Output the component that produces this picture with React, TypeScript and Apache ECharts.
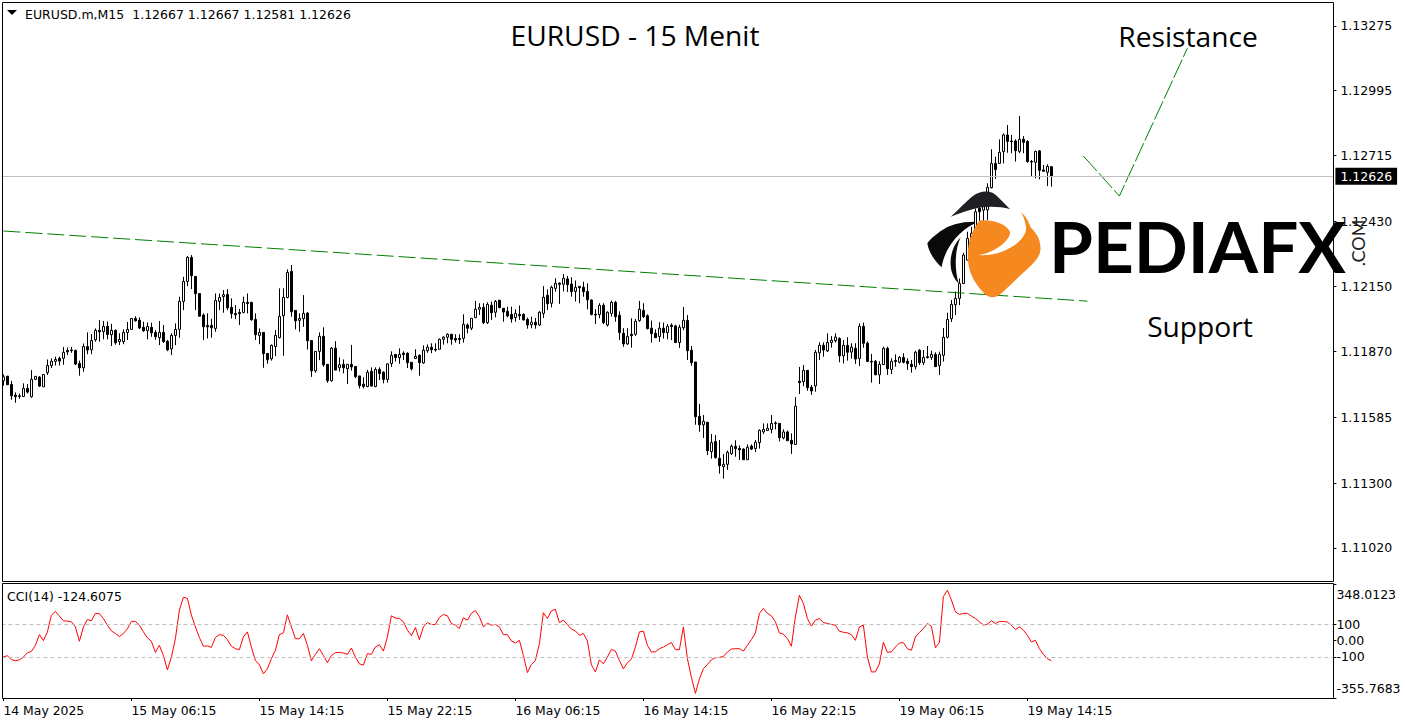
import React, { useEffect, useRef } from "react";
import * as echarts from "echarts";

// prices are stored in points: 12626 means 1.12626
const opens = [
11742,11762,11726,11680,11677,11674,11709,11673,11748,11758,
11716,11777,11807,11826,11839,11839,11873,11875,11873,11817,
11798,11890,11876,11919,11960,11954,11977,11941,11960,11911,
11911,11951,11964,12011,12004,11973,11958,11973,11951,11928,
11951,11913,11880,11938,11964,12085,12171,12275,12193,12119,
12026,11981,11981,11968,12085,12106,12115,12059,12033,12037,
12037,12081,12081,12007,11938,11951,11860,11837,11890,11928,
12023,12102,12214,12046,12003,12010,12034,11916,11785,11869,
11934,11813,11742,11883,11798,11813,11794,11813,11804,11763,
11727,11717,11783,11717,11791,11779,11748,11816,11856,11842,
11861,11861,11822,11838,11852,11819,11872,11887,11878,11878,
11921,11930,11943,11925,11925,11925,11983,11969,12015,12051,
12059,11993,12068,12038,12090,12055,12042,12029,12015,12029,
12029,12007,11984,11995,11983,12033,12111,12077,12141,12164,
12159,12182,12160,12128,12150,12146,12128,12091,12029,12028,
12068,11983,12033,12081,12025,11947,11901,11943,11943,12002,
12046,12023,11969,11947,11933,11969,11950,11982,11979,11907,
11971,12003,11874,11823,11588,11552,11563,11436,11480,11407,
11371,11381,11427,11459,11450,11447,11401,11460,11449,11475,
11521,11527,11532,11560,11558,11495,11521,11485,11467,11740,
11738,11787,11714,11720,11863,11895,11871,11907,11915,11925,
11850,11895,11866,11882,11838,11977,11904,11826,11826,11768,
11812,11882,11791,11830,11822,11843,11826,11813,11803,11874,
11820,11846,11843,11856,11807,11852,11930,12010,12071,12098,
12162,12263,12353,12379,12487,12479,12480,12576,12681,12681,
12732,12804,12778,12778,12733,12785,12776,12690,12686,12735,
12653,12643,12667];

const closes = [
11759,11725,11677,11673,11674,11709,11693,11748,11761,11719,
11769,11808,11826,11834,11827,11865,11867,11872,11814,11798,
11890,11875,11916,11960,11954,11977,11942,11960,11906,11921,
11951,11964,12011,12001,11970,11958,11977,11949,11932,11951,
11911,11876,11938,11964,12085,12171,12275,12196,12118,12021,
11975,11975,11971,12089,12102,12114,12057,12032,12027,12032,
12081,12076,12006,11941,11951,11859,11833,11895,11938,12020,
12102,12210,12040,12001,12011,12033,11915,11785,11869,11934,
11811,11742,11883,11788,11811,11798,11813,11802,11760,11721,
11717,11779,11719,11791,11773,11748,11815,11852,11842,11856,
11855,11820,11794,11848,11820,11874,11887,11876,11875,11921,
11930,11943,11921,11918,11920,11986,11969,12012,12051,12059,
11993,12072,12036,12085,12058,12039,12022,12009,12033,12023,
12005,11983,11995,11983,12038,12103,12075,12146,12163,12159,
12185,12157,12127,12146,12144,12127,12092,12028,12026,12068,
11993,12038,12081,12019,11950,11901,11934,11937,11999,12051,
12019,11967,11946,11928,11969,11950,11977,11976,11907,11973,
12003,11872,11820,11587,11552,11567,11440,11475,11410,11375,
11381,11433,11459,11449,11444,11401,11455,11447,11476,11528,
11532,11537,11558,11557,11496,11521,11483,11469,11632,11734,
11787,11712,11698,11865,11895,11875,11908,11917,11931,11850,
11895,11865,11887,11836,11977,11904,11825,11823,11768,11813,
11882,11794,11826,11825,11843,11822,11816,11803,11865,11820,
11843,11842,11856,11803,11856,11930,12007,12072,12098,12162,
12285,12357,12379,12472,12472,12523,12577,12681,12655,12729,
12804,12776,12775,12736,12785,12772,12689,12687,12733,12651,
12647,12668,12626];

const highs = [
11769,11762,11742,11692,11687,11731,11728,11788,11761,11762,
11769,11834,11839,11846,11846,11888,11886,11888,11877,11829,
11903,11951,11944,11968,12004,12000,11998,11988,11964,11947,
11964,11996,12011,12021,12016,11997,11994,11993,11961,12000,
11983,11918,11947,11990,12105,12191,12281,12285,12193,12119,
12033,12033,12010,12119,12119,12134,12138,12098,12069,12052,
12105,12119,12081,12033,11968,11951,11860,11899,11961,12141,
12141,12223,12242,12046,12033,12112,12039,11916,11869,11951,
11973,11813,11888,11913,11843,11834,11813,11897,11804,11763,
11757,11789,11800,11800,11800,11783,11817,11869,11856,11882,
11869,11865,11822,11878,11856,11895,11899,11904,11904,11925,
11935,11947,11943,11943,11943,12029,11990,12012,12087,12077,
12077,12081,12084,12091,12090,12055,12062,12062,12051,12067,
12033,12015,12019,12013,12043,12151,12137,12153,12185,12167,
12203,12195,12189,12175,12150,12170,12163,12094,12051,12077,
12077,12042,12088,12087,12042,11969,11969,12012,12009,12087,
12077,12029,12002,11964,11995,11993,11987,11990,11984,11984,
12061,12026,11892,11823,11642,11594,11563,11512,11508,11486,
11426,11440,11467,11485,11463,11450,11467,11467,11486,11532,
11558,11558,11594,11567,11558,11532,11527,11515,11671,11802,
11810,11787,11724,11875,11908,11908,11947,11935,11947,11930,
11918,11930,11904,11904,11990,11993,11912,11858,11832,11826,
11889,11889,11839,11856,11849,11861,11839,11832,11872,11879,
11875,11892,11872,11865,11868,11970,12036,12091,12127,12184,
12295,12386,12407,12487,12494,12537,12595,12742,12710,12785,
12811,12847,12804,12785,12886,12799,12782,12696,12736,12739,
12674,12677,12667];

const lows = [
11721,11725,11660,11647,11664,11674,11687,11669,11748,11715,
11716,11767,11797,11808,11808,11811,11853,11863,11810,11764,
11781,11857,11857,11911,11911,11921,11921,11892,11898,11896,
11900,11918,11964,11997,11965,11954,11921,11932,11919,11896,
11906,11870,11853,11896,11928,12047,12151,12138,12047,12019,
11918,11925,11928,11954,12047,12036,12047,12011,12008,11983,
12033,12033,12001,11918,11900,11798,11816,11829,11849,11925,
11850,12098,12019,11964,11954,11975,11877,11759,11777,11831,
11803,11733,11738,11788,11782,11774,11728,11786,11753,11709,
11709,11714,11717,11714,11745,11731,11734,11802,11825,11815,
11832,11797,11786,11838,11764,11815,11863,11861,11868,11878,
11898,11904,11898,11907,11901,11907,11947,11961,12012,12026,
11987,11987,12005,12016,12055,11997,12016,11993,11997,12005,
12002,11967,11969,11967,11979,12013,12048,12059,12127,12074,
12128,12126,12105,12084,12077,12105,12051,12025,11987,12012,
11987,11976,12019,11997,11918,11889,11897,11885,11936,11997,
12013,11964,11907,11927,11910,11924,11921,11918,11907,11884,
11961,11832,11807,11552,11522,11495,11421,11406,11406,11341,
11319,11357,11421,11414,11400,11400,11400,11443,11434,11449,
11512,11527,11515,11532,11480,11489,11483,11426,11467,11685,
11719,11699,11681,11695,11832,11846,11866,11885,11907,11822,
11817,11829,11838,11815,11806,11885,11823,11734,11766,11728,
11810,11767,11771,11803,11817,11817,11789,11777,11791,11810,
11810,11838,11832,11803,11767,11825,11925,11996,12026,12069,
12160,12263,12350,12371,12422,12429,12436,12573,12614,12679,
12681,12727,12725,12689,12725,12725,12684,12624,12617,12612,
12645,12583,12581];

const cciValues = [
-100,-94,-117,-125,-119,-102,-75,-67,-29,37,
0,54,158,181,152,123,121,117,85,-4,
85,131,123,169,167,137,96,60,44,25,
44,73,119,119,96,54,17,-4,-73,-29,
-92,-181,-102,12,190,269,262,158,85,19,
-35,-33,-42,19,37,33,6,-35,-50,-56,
23,54,-40,-123,-150,-206,-175,-112,-60,37,
48,160,85,12,12,44,-29,-125,-85,-50,
-92,-137,-92,-75,-73,-77,-85,-46,-102,-144,
-152,-81,-85,-40,-25,-65,23,154,140,137,
117,65,31,81,6,85,112,100,100,144,
162,154,106,96,75,142,127,169,187,148,
85,108,96,100,85,37,37,-2,-15,2,
-92,-198,-148,-123,-19,173,137,185,194,112,
127,100,71,60,33,44,-2,-150,-194,-119,
-144,-102,-54,-65,-123,-175,-137,-115,-40,54,
58,-29,-71,-69,-50,-40,-25,-12,-56,-56,
85,-112,-227,-327,-237,-175,-148,-119,-106,-104,
-98,-71,-52,-50,-50,-65,-29,6,48,169,
200,169,154,117,48,40,12,-35,148,281,
231,137,90,127,137,112,106,100,96,58,
52,48,37,2,85,96,-102,-194,-194,-144,
-10,-73,-69,-40,-15,-12,-50,-60,23,50,
75,106,90,-44,-12,273,312,252,179,162,
169,169,152,137,117,96,102,123,106,119,
119,115,96,69,85,65,33,-8,2,-50,
-85,-112,-124.6];

const dateLabels = ["14 May 2025","15 May 06:15","15 May 14:15","15 May 22:15","16 May 06:15","16 May 14:15","16 May 22:15","19 May 06:15","19 May 14:15"];
const BARS_PER_LABEL = 32;
const SLOT_COUNT = 333;
const priceTicks = [1.1102,1.113,1.11585,1.1187,1.1215,1.1243,1.12715,1.12995,1.13275];
const cciTicks = [-355.7683,-100,0,100,348.0123];
const lastPrice = 1.12626;
const supportLine: [number, number][] = [[0,1.12389],[271,1.12086]];
const resistanceLine: [number, number][] = [[270,1.12713],[279,1.1254],[296,1.13179]];

const toPrice = (p: number) => (100000 + p) / 100000;
const categories = Array.from({ length: SLOT_COUNT }, (_, i) => (i % BARS_PER_LABEL === 0 && dateLabels[i / BARS_PER_LABEL]) || "");
const candleData = opens.map((o, i) => [toPrice(o), toPrice(closes[i]), toPrice(lows[i]), toPrice(highs[i])]);

const umbrella = "M92 110 C120 85 140 62 160 47 C180 32 215 27 235 52 C250 67 260 78 270 87 C235 78 190 77 150 90 C130 96 110 103 92 110 Z";
const wingA = "M165 125 C120 125 85 135 60 155 C45 167 30 178 22 190 C25 215 45 245 65 262 C72 215 105 160 165 130 Z";
const wingB = "M122 172 C100 195 90 225 92 255 C93 280 105 300 116 310 C105 275 102 215 122 172 Z";
const blob = "M178 122 C215 118 258 130 270 155 C275 175 230 218 176 225 C240 232 325 185 318 140 C315 120 310 108 303 97 C320 110 328 130 332 142 C345 155 362 175 362 205 C362 225 350 240 335 255 L245 340 C225 358 205 355 190 338 C165 310 145 280 144 235 C142 195 150 160 178 122 Z";
echarts.graphic.registerShape("lgUmbrella", echarts.graphic.extendPath(umbrella, {}) as any);
echarts.graphic.registerShape("lgWingA", echarts.graphic.extendPath(wingA, {}) as any);
echarts.graphic.registerShape("lgWingB", echarts.graphic.extendPath(wingB, {}) as any);
echarts.graphic.registerShape("lgBlob", echarts.graphic.extendPath(blob, {}) as any);

const uiFont = "DejaVu Sans";
const handFont = "Open Sans";

export default function App() {
  const ref = useRef<HTMLDivElement>(null);
  useEffect(() => {
    document.body.style.margin = "0";
    const chart = echarts.init(ref.current!, null, { renderer: "svg" });
    const frameLine = (x1: number, y1: number, x2: number, y2: number) => ({
      type: "line", z: 50, silent: true, shape: { x1, y1, x2, y2 }, style: { stroke: "#000", lineWidth: 1 },
    });
    const logoPart = (type: string, fill: string) => ({
      type, z: 60, x: 920, y: 180, scaleX: 1 / 3, scaleY: 1 / 3, silent: true, style: { fill },
    });
    const note = (text: string, x: number, y: number) => ({
      type: "text", z: 70, x, y, silent: true,
      style: { text, fill: "#000", font: `500 28.2px "${handFont}"`, align: "center", verticalAlign: "middle" },
    });
    chart.setOption({
      animation: false,
      backgroundColor: "#fff",
      grid: [
        { left: 1.4, width: 1332, top: 3, height: 578 },
        { left: 1.4, width: 1332, top: 584.5, height: 113.5 },
      ],
      xAxis: [
        { type: "category", gridIndex: 0, data: categories, show: false, boundaryGap: true },
        {
          type: "category", gridIndex: 1, data: categories, boundaryGap: true,
          axisLine: { show: false, onZero: false },
          axisTick: { show: true, alignWithLabel: true, length: 3, lineStyle: { color: "#000" },
            interval: (i: number) => i % BARS_PER_LABEL === 0 && i / BARS_PER_LABEL < dateLabels.length },
          axisLabel: {
            interval: (i: number) => i % BARS_PER_LABEL === 0 && i / BARS_PER_LABEL < dateLabels.length,
            align: "left", color: "#000", fontFamily: uiFont, fontSize: 12.4, margin: 6, hideOverlap: false,
          },
        },
      ],
      yAxis: [
        {
          type: "value", gridIndex: 0, position: "right", min: 1.10877, max: 1.13374, scale: true,
          splitLine: { show: false },
          axisLine: { show: false },
          axisTick: { show: true, length: 3, customValues: priceTicks, lineStyle: { color: "#000" } },
          axisLabel: { customValues: priceTicks, formatter: (v: number) => v.toFixed(5), color: "#000", fontFamily: uiFont, fontSize: 12.5, margin: 7, showMinLabel: true, showMaxLabel: true },
        },
        {
          type: "value", gridIndex: 1, position: "right", min: -355.7683, max: 348.0123,
          splitLine: { show: false },
          axisLine: { show: false },
          axisTick: { show: true, length: 3, customValues: cciTicks, lineStyle: { color: "#000" } },
          axisLabel: {
            customValues: cciTicks,
            formatter: (v: number) => (v === 0 ? "0.00" : Math.abs(v) === 100 ? String(v) : v.toFixed(4)),
            color: "#000", fontFamily: uiFont, fontSize: 12.5, margin: 3, lineHeight: 19,
            verticalAlignMaxLabel: "top", verticalAlignMinLabel: "bottom",
          },
        },
      ],
      series: [
        {
          type: "line", name: "Last price", xAxisIndex: 0, yAxisIndex: 0, data: [], symbol: "none", silent: true, z: 1,
          markLine: {
            silent: true, symbol: "none", animation: false, precision: 5,
            lineStyle: { color: "#c0c0c0", width: 1, type: "solid" },
            label: { show: true, position: "end", formatter: lastPrice.toFixed(5), color: "#fff", backgroundColor: "#000", fontFamily: uiFont, fontSize: 12.5, padding: [2, 5, 2, 5], distance: 2 },
            data: [{ yAxis: lastPrice }],
          },
        },
        {
          type: "candlestick", name: "EURUSD", xAxisIndex: 0, yAxisIndex: 0, data: candleData, barWidth: 2,
          itemStyle: { color: "#fff", color0: "#000", borderColor: "#000", borderColor0: "#000", borderWidth: 1 },
        },
        {
          type: "line", name: "Support", xAxisIndex: 0, yAxisIndex: 0, data: supportLine, symbol: "none", silent: true,
          lineStyle: { color: "#008000", width: 1, type: [17, 5] },
        },
        {
          type: "line", name: "Resistance", xAxisIndex: 0, yAxisIndex: 0, data: resistanceLine, symbol: "none", silent: true,
          lineStyle: { color: "#008000", width: 1, type: [20, 3] },
        },
        {
          type: "line", name: "CCI(14)", xAxisIndex: 1, yAxisIndex: 1, data: cciValues, symbol: "none", silent: true,
          lineStyle: { color: "#ff0000", width: 1 },
          markLine: {
            silent: true, symbol: "none", animation: false, label: { show: false },
            lineStyle: { color: "#c0c0c0", width: 1, type: [4, 3] },
            data: [{ yAxis: 100 }, { yAxis: -100 }],
          },
        },
      ],
      graphic: [
        frameLine(2.5, 2.5, 1333.5, 2.5),
        frameLine(2.5, 2.5, 2.5, 581.5),
        frameLine(1333.5, 2.5, 1333.5, 581.5),
        frameLine(2.5, 581.5, 1333.5, 581.5),
        frameLine(2.5, 583.5, 1333.5, 583.5),
        frameLine(2.5, 583.5, 2.5, 698.5),
        frameLine(1333.5, 583.5, 1333.5, 698.5),
        frameLine(2.5, 698.5, 1333.5, 698.5),
        { type: "polygon", z: 70, silent: true, shape: { points: [[7, 10], [17, 10], [12, 15]] }, style: { fill: "#000" } },
        { type: "text", z: 70, x: 25, y: 14, silent: true, style: { text: "EURUSD.m,M15  1.12667 1.12667 1.12581 1.12626", fill: "#000", font: `12.5px "${uiFont}"`, verticalAlign: "middle" } },
        { type: "text", z: 70, x: 7, y: 596, silent: true, style: { text: "CCI(14) -124.6075", fill: "#000", font: `12.5px "${uiFont}"`, verticalAlign: "middle" } },
        note("EURUSD - 15 Menit", 635, 35),
        note("Resistance", 1188, 36),
        note("Support", 1200, 326),
        logoPart("lgUmbrella", "#1f2024"),
        logoPart("lgWingA", "#0a0a0a"),
        logoPart("lgWingB", "#0a0a0a"),
        logoPart("lgBlob", "#f5891f"),
        { type: "text", z: 70, x: 1049, y: 245, silent: true, style: { text: "PEDIAFX", fill: "#000", font: `700 71px "Lato"`, verticalAlign: "middle" } },
        { type: "text", z: 70, x: 1358, y: 243, rotation: Math.PI / 2, silent: true, style: { text: ".COM", fill: "#222", font: `18px "Lato"`, align: "center", verticalAlign: "middle" } },
      ],
    });
    return () => chart.dispose();
  }, []);
  return <div ref={ref} style={{ position: "absolute", left: 0, top: 0, width: 1405, height: 725 }} />;
}
